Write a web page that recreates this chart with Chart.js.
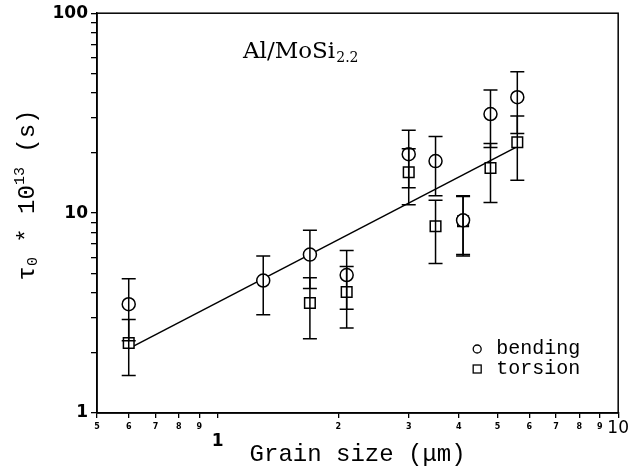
<!DOCTYPE html>
<html>
<head>
<meta charset="utf-8">
<script src="https://cdn.jsdelivr.net/npm/chart.js@4.4.1/dist/chart.umd.min.js"></script>
<style>
  html, body { margin: 0; padding: 0; background: #fff; }
  #wrap { width: 633px; height: 475px; }
</style>
</head>
<body>
<div id="wrap"><canvas id="chart" width="633" height="475"></canvas></div>
<script>
// grain size (um) and tau0 * 1e13 (s)
const bendingSize = [0.6, 1.3, 1.7, 2.1, 3.0, 3.5, 4.1, 4.8, 5.6];
const bendingTau  = [3.5, 4.6, 6.2, 4.9, 19.7, 18.2, 9.2, 31.3, 38];
const bendingErr  = [1.2, 1.5, 2.0, 1.6, 6.3, 6.0, 3.0, 10, 13];

const torsionSize = [0.6, 1.7, 2.1, 3.0, 3.5, 4.1, 4.8, 5.6];
const torsionTau  = [2.24, 3.55, 4.03, 16.0, 8.6, 9.1, 16.8, 22.6];
const torsionErr  = [0.7, 1.2, 1.37, 5.0, 3.0, 3.0, 5.5, 8.0];

const fitSize = [0.6, 5.6];
const fitTau  = [2.1, 21.5];

const xTicks = [0.5, 0.6, 0.7, 0.8, 0.9, 1, 2, 3, 4, 5, 6, 7, 8, 9, 10];
const yTicks = [1, 2, 3, 4, 5, 6, 7, 8, 9, 10, 20, 30, 40, 50, 60, 70, 80, 90, 100];
const yLabels = [1, 10, 100];

const toPoints = (xs, ys) => xs.map((x, i) => ({ x: x, y: ys[i] }));

// vertical error bars drawn through the scales
const errorBars = {
  id: 'errorBars',
  afterDatasetsDraw(chart) {
    const ctx = chart.ctx;
    const xs = chart.scales.x, ys = chart.scales.y;
    ctx.save();
    ctx.strokeStyle = '#000';
    ctx.lineWidth = 1.5;
    chart.data.datasets.forEach(ds => {
      if (!ds.errors) return;
      ds.data.forEach((p, i) => {
        const e = ds.errors[i];
        const px = xs.getPixelForValue(p.x);
        const top = ys.getPixelForValue(p.y + e);
        const bot = ys.getPixelForValue(p.y - e);
        ctx.beginPath();
        ctx.moveTo(px, top); ctx.lineTo(px, bot);
        ctx.moveTo(px - 7, top); ctx.lineTo(px + 7, top);
        ctx.moveTo(px - 7, bot); ctx.lineTo(px + 7, bot);
        ctx.stroke();
      });
    });
    ctx.restore();
  }
};

// frame, y title, annotation and legend
const decorations = {
  id: 'decorations',
  afterDraw(chart) {
    const ctx = chart.ctx;
    const a = chart.chartArea;
    ctx.save();
    ctx.strokeStyle = '#000';
    ctx.lineWidth = 1.5;
    ctx.strokeRect(a.left, a.top, a.right - a.left, a.bottom - a.top);

    // y axis title: tau_0 * 10^13 (s)
    ctx.translate(28, 195);
    ctx.rotate(-Math.PI / 2);
    ctx.fillStyle = '#000';
    ctx.textBaseline = 'middle';
    const parts = [
      ['τ', '24px "Liberation Mono"', 0],
      ['0', '15px "Liberation Mono"', 5],
      [' * 10', '24px "Liberation Mono"', 0],
      ['13', '15px "Liberation Mono"', -8],
      [' (s)', '24px "Liberation Mono"', 0]
    ];
    let w = 0;
    parts.forEach(p => { ctx.font = p[1]; w += ctx.measureText(p[0]).width; });
    let cx = -w / 2;
    parts.forEach(p => {
      ctx.font = p[1];
      ctx.fillText(p[0], cx, p[2]);
      cx += ctx.measureText(p[0]).width;
    });
    ctx.setTransform(1, 0, 0, 1, 0, 0);

    // material label
    ctx.textBaseline = 'alphabetic';
    ctx.font = '23px "DejaVu Serif"';
    const lx = a.left + 146, ly = a.top + 45;
    ctx.fillText('Al/MoSi', lx, ly);
    const lw = ctx.measureText('Al/MoSi').width;
    ctx.font = '14px "DejaVu Serif"';
    ctx.fillText('2.2', lx + lw + 1, ly + 4);

    // legend
    const gx = a.right - 141, gy = a.bottom - 64;
    ctx.lineWidth = 1.3;
    ctx.beginPath();
    ctx.arc(gx, gy, 4, 0, Math.PI * 2);
    ctx.stroke();
    ctx.strokeRect(gx - 4, gy + 16, 8, 8);
    ctx.font = '20px "Liberation Mono"';
    ctx.textBaseline = 'middle';
    ctx.fillText('bending', gx + 19, gy);
    ctx.fillText('torsion', gx + 19, gy + 20);
    ctx.restore();
  }
};

new Chart(document.getElementById('chart'), {
  type: 'scatter',
  data: {
    datasets: [
      {
        label: 'bending',
        data: toPoints(bendingSize, bendingTau),
        errors: bendingErr,
        pointStyle: 'circle',
        pointRadius: 6.5,
        borderColor: '#000',
        backgroundColor: '#fff',
        borderWidth: 1.5
      },
      {
        label: 'torsion',
        data: toPoints(torsionSize, torsionTau),
        errors: torsionErr,
        pointStyle: 'rect',
        pointRadius: 7.5,
        borderColor: '#000',
        backgroundColor: '#fff',
        borderWidth: 1.5
      },
      {
        label: 'fit',
        data: toPoints(fitSize, fitTau),
        showLine: true,
        pointRadius: 0,
        borderColor: '#000',
        borderWidth: 1.5
      }
    ]
  },
  options: {
    responsive: false,
    animation: false,
    devicePixelRatio: 1,
    layout: { padding: { top: 13, right: 12, left: 0, bottom: 0 } },
    plugins: { legend: { display: false }, tooltip: { enabled: false } },
    scales: {
      x: {
        type: 'logarithmic',
        min: 0.5,
        max: 10,
        afterFit: s => { s.height = 62; },
        afterBuildTicks: s => { s.ticks = xTicks.map(v => ({ value: v })); },
        border: { display: true, color: '#000', width: 1.5 },
        grid: { drawOnChartArea: false, drawTicks: true, tickLength: 5, color: '#000', lineWidth: 1.3 },
        ticks: {
          autoSkip: false,
          maxRotation: 0,
          padding: 4,
          color: '#000',
          callback: v => {
            if (v === 1) return ['', '1'];
            if (v === 10) return '10';
            return v < 1 ? String(Math.round(v * 10)) : String(v);
          },
          font: c => {
            const v = c.tick ? c.tick.value : 0;
            if (v === 1) return { family: 'DejaVu Sans', size: 17, weight: 'bold', lineHeight: 0.75 };
            if (v === 10) return { family: 'DejaVu Sans', size: 17, lineHeight: 0.82 };
            return { family: 'DejaVu Sans', size: 8, weight: 'bold', lineHeight: 1.2 };
          }
        },
        title: {
          display: true,
          text: 'Grain size (μm)',
          color: '#000',
          font: { family: 'Liberation Mono', size: 24 },
          padding: { top: 0, bottom: 6 }
        }
      },
      y: {
        type: 'logarithmic',
        min: 1,
        max: 100,
        afterFit: s => { s.width = 97; },
        afterBuildTicks: s => { s.ticks = yTicks.map(v => ({ value: v })); },
        border: { display: true, color: '#000', width: 1.5 },
        grid: { drawOnChartArea: false, drawTicks: true, tickLength: 6, color: '#000', lineWidth: 1.3 },
        ticks: {
          autoSkip: false,
          padding: 3,
          color: '#000',
          font: { family: 'DejaVu Sans', size: 17, weight: 'bold' },
          callback: v => yLabels.includes(v) ? String(v) : ''
        }
      }
    }
  },
  plugins: [errorBars, decorations]
});
</script>
</body>
</html>
